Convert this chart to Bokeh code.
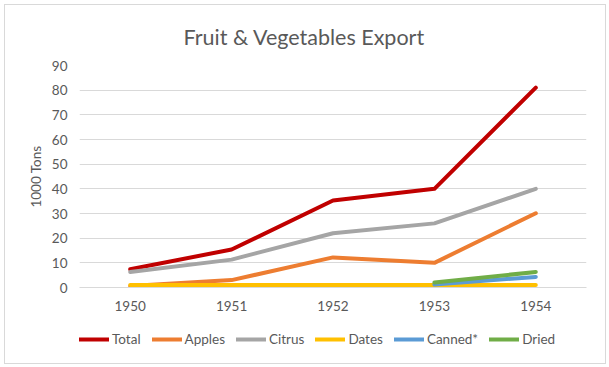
from bokeh.plotting import figure
from bokeh.layouts import column
from bokeh.models import Range1d, FactorRange, FixedTicker, Legend, LegendItem, Title, ColumnDataSource
from bokeh.embed import file_html
from bokeh.resources import INLINE
import numpy as np

years = ["1950", "1951", "1952", "1953", "1954"]
total = [7.4, 15.4, 35.3, 40, 81]
apples = [0.6, 3, 12.2, 10, 30.1]
citrus = [6.3, 11.3, 22, 26, 40]
dates = [1, 1, 1, 1, 1]
canned = [np.nan, np.nan, np.nan, 1.2, 4.3]
dried = [np.nan, np.nan, np.nan, 2.0, 6.3]
y_ticks = [0, 10, 20, 30, 40, 50, 60, 70, 80, 90]

series = [
    ("Total", total, "#C00000"),
    ("Apples", apples, "#ED7D31"),
    ("Citrus", citrus, "#A5A5A5"),
    ("Dates", dates, "#FFC000"),
    ("Canned*", canned, "#5B9BD5"),
    ("Dried", dried, "#70AD47"),
]

FONT = "Lato"
GREY = "#595959"

p = figure(frame_width=507, frame_height=222, output_backend="svg", toolbar_location=None,
           x_range=FactorRange(*years), y_range=Range1d(0, 90),
           min_border_left=74, min_border_right=19, min_border_top=60, min_border_bottom=35)
p.outline_line_color = None
p.background_fill_color = "white"
p.border_fill_color = "white"

t = Title(text="Fruit & Vegetables Export", align="left", offset=104, text_font=FONT,
          text_font_size="21.5px", text_color=GREY, text_font_style="normal", standoff=32)
p.add_layout(t, "above")

for name, vals, col in series:
    src = ColumnDataSource(dict(x=years, y=vals))
    p.line("x", "y", source=src, line_color=col, line_width=4, line_cap="round", line_join="round")

p.yaxis.ticker = FixedTicker(ticks=y_ticks)
p.yaxis.axis_line_color = None
p.yaxis.axis_label = "1000 Tons"
p.yaxis.axis_label_text_font = FONT
p.yaxis.axis_label_text_font_size = "13.5px"
p.yaxis.axis_label_text_font_style = "normal"
p.yaxis.axis_label_text_color = GREY
p.yaxis.axis_label_standoff = 5
p.yaxis.major_label_standoff = 12

p.xaxis.axis_line_color = "#D9D9D9"
p.xaxis.major_label_standoff = 13

for ax in (p.xaxis, p.yaxis):
    ax.major_tick_line_color = None
    ax.minor_tick_line_color = None
    ax.major_tick_out = 0
    ax.major_tick_in = 0
    ax.minor_tick_out = 0
    ax.minor_tick_in = 0
    ax.major_label_text_font = FONT
    ax.major_label_text_font_size = "13.5px"
    ax.major_label_text_color = GREY

p.xgrid.grid_line_color = None
p.ygrid.grid_line_color = "#D9D9D9"
p.ygrid.grid_line_width = 1

# legend strip below the chart (series drawn out of view, only their legend shows)
leg = figure(width=600, height=41, output_backend="svg", toolbar_location=None,
             x_axis_location=None, y_axis_location=None,
             min_border_left=74, min_border_right=19, min_border_top=0, min_border_bottom=0,
             x_range=FactorRange(*years), y_range=Range1d(1000, 1001))
leg.outline_line_color = None
leg.xgrid.grid_line_color = None
leg.ygrid.grid_line_color = None
leg.border_fill_color = "white"
items = []
for name, vals, col in series:
    src = ColumnDataSource(dict(x=years, y=vals))
    r = leg.line("x", "y", source=src, line_color=col, line_width=4, line_cap="round")
    items.append(LegendItem(label=name, renderers=[r]))
legend = Legend(items=items, orientation="horizontal", location=(0, 16),
                glyph_width=30, glyph_height=16, label_standoff=3, spacing=11,
                label_text_font=FONT, label_text_font_size="13.5px", label_text_color=GREY,
                border_line_color=None, background_fill_alpha=0, padding=0, margin=0)
leg.add_layout(legend, "center")

layout = column(p, leg, spacing=0, styles={"border": "1px solid #D9D9D9", "margin": "4px"})

open("out.html", "w").write(file_html(layout, INLINE))
